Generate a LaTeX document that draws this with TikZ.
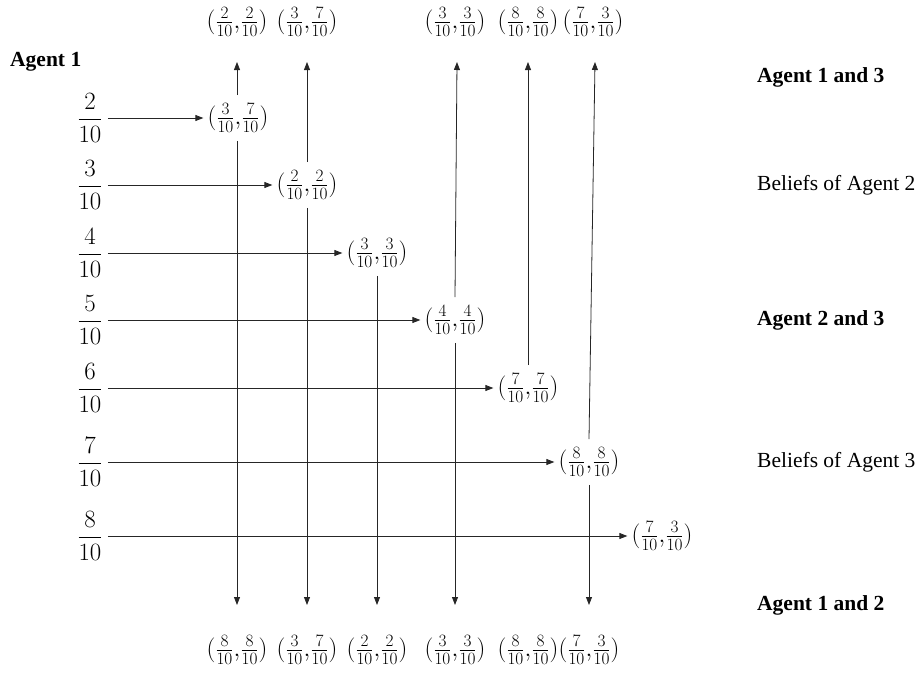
\documentclass[tikz,border=0pt]{standalone}
\usepackage[no-math]{fontspec}
\setmainfont{Liberation Serif}
\usetikzlibrary{arrows.meta}
\begin{document}
\begin{tikzpicture}[x=1pt,y=-1pt,
  pair/.style={font=\fontsize{23}{27}\selectfont, inner xsep=4pt, inner ysep=8pt},
  lfrac/.style={font=\fontsize{24}{28}\selectfont, inner sep=2pt},
  lab/.style={font=\fontsize{21.5}{25}\selectfont, anchor=west, inner sep=0pt},
  blab/.style={font=\fontsize{21.5}{25}\selectfont\bfseries, anchor=west, inner sep=0pt},
  arr/.style={-{Triangle[length=8pt,width=6pt]}, line width=0.8pt, draw=black!85}]
\useasboundingbox (0,0) rectangle (924,673);

% left label
\node[blab] (ag1) at (10,62) {Agent 1};

% left fractions
\node[lfrac] (f2) at (90,118) {$\displaystyle\frac{2}{10}$};
\node[lfrac] (f3) at (90,185) {$\displaystyle\frac{3}{10}$};
\node[lfrac] (f4) at (90,253) {$\displaystyle\frac{4}{10}$};
\node[lfrac] (f5) at (90,320) {$\displaystyle\frac{5}{10}$};
\node[lfrac] (f6) at (90,388) {$\displaystyle\frac{6}{10}$};
\node[lfrac] (f7) at (90,462) {$\displaystyle\frac{7}{10}$};
\node[lfrac] (f8) at (90,536) {$\displaystyle\frac{8}{10}$};

% pair nodes
\node[pair] (n1) at (238,118) {$(\frac{3}{10}{,}\frac{7}{10})$};
\node[pair] (n2) at (307,185) {$(\frac{2}{10}{,}\frac{2}{10})$};
\node[pair] (n3) at (377,253) {$(\frac{3}{10}{,}\frac{3}{10})$};
\node[pair] (n4) at (455,320) {$(\frac{4}{10}{,}\frac{4}{10})$};
\node[pair] (n5) at (528,388) {$(\frac{7}{10}{,}\frac{7}{10})$};
\node[pair] (n6) at (589,462) {$(\frac{8}{10}{,}\frac{8}{10})$};
\node[pair] (n7) at (662,536) {$(\frac{7}{10}{,}\frac{3}{10})$};

% horizontal arrows
\draw[arr] ([xshift=3pt]f2.east) -- (n1.west);
\draw[arr] ([xshift=3pt]f3.east) -- (n2.west);
\draw[arr] ([xshift=3pt]f4.east) -- (n3.west);
\draw[arr] ([xshift=3pt]f5.east) -- (n4.west);
\draw[arr] ([xshift=3pt]f6.east) -- (n5.west);
\draw[arr] ([xshift=3pt]f7.east) -- (n6.west);
\draw[arr] ([xshift=3pt]f8.east) -- (n7.west);

% arrow end coordinates
\coordinate (t1) at (237,62);
\coordinate (t2) at (307,62);
\coordinate (t4) at (457,62);
\coordinate (t5) at (528,62);
\coordinate (t6) at (595,62);
\coordinate (b1) at (237,605);
\coordinate (b2) at (307,605);
\coordinate (b3) at (377,605);
\coordinate (b4) at (455,605);
\coordinate (b6) at (589,605);

% vertical arrows
\draw[arr] (n1.north -| t1) -- (t1);
\draw[arr] (n1.south -| b1) -- (b1);
\draw[arr] (n2.north) -- (t2);
\draw[arr] (n2.south) -- (b2);
\draw[arr] (n3.south) -- (b3);
\draw[arr] (n4.north) -- (t4);
\draw[arr] (n4.south) -- (b4);
\draw[arr] (n5.north) -- (t5);
\draw[arr] (n6.north) -- (t6);
\draw[arr] (n6.south) -- (b6);

% top labels
\node[pair, inner sep=0pt] (u1) at (237,22) {$(\frac{2}{10}{,}\frac{2}{10})$};
\node[pair, inner sep=0pt] (u2) at (307,22) {$(\frac{3}{10}{,}\frac{7}{10})$};
\node[pair, inner sep=0pt] (u4) at (455,22) {$(\frac{3}{10}{,}\frac{3}{10})$};
\node[pair, inner sep=0pt] (u5) at (528,22) {$(\frac{8}{10}{,}\frac{8}{10})$};
\node[pair, inner sep=0pt] (u6) at (593,22) {$(\frac{7}{10}{,}\frac{3}{10})$};

% bottom labels
\node[pair, inner sep=0pt] (d1) at (237,650) {$(\frac{8}{10}{,}\frac{8}{10})$};
\node[pair, inner sep=0pt] (d2) at (307,650) {$(\frac{3}{10}{,}\frac{7}{10})$};
\node[pair, inner sep=0pt] (d3) at (377,650) {$(\frac{2}{10}{,}\frac{2}{10})$};
\node[pair, inner sep=0pt] (d4) at (455,650) {$(\frac{3}{10}{,}\frac{3}{10})$};
\node[pair, inner sep=0pt] (d5) at (528,650) {$(\frac{8}{10}{,}\frac{8}{10})$};
\node[pair, inner sep=0pt] (d6) at (589,650) {$(\frac{7}{10}{,}\frac{3}{10})$};

% right labels
\node[blab] (r1) at (757,77) {Agent 1 and 3};
\node[lab] (r2) at (757,185) {Beliefs of Agent 2};
\node[blab] (r3) at (757,320) {Agent 2 and 3};
\node[lab] (r4) at (757,462) {Beliefs of Agent 3};
\node[blab] (r5) at (757,605) {Agent 1 and 2};
\end{tikzpicture}
\end{document}
